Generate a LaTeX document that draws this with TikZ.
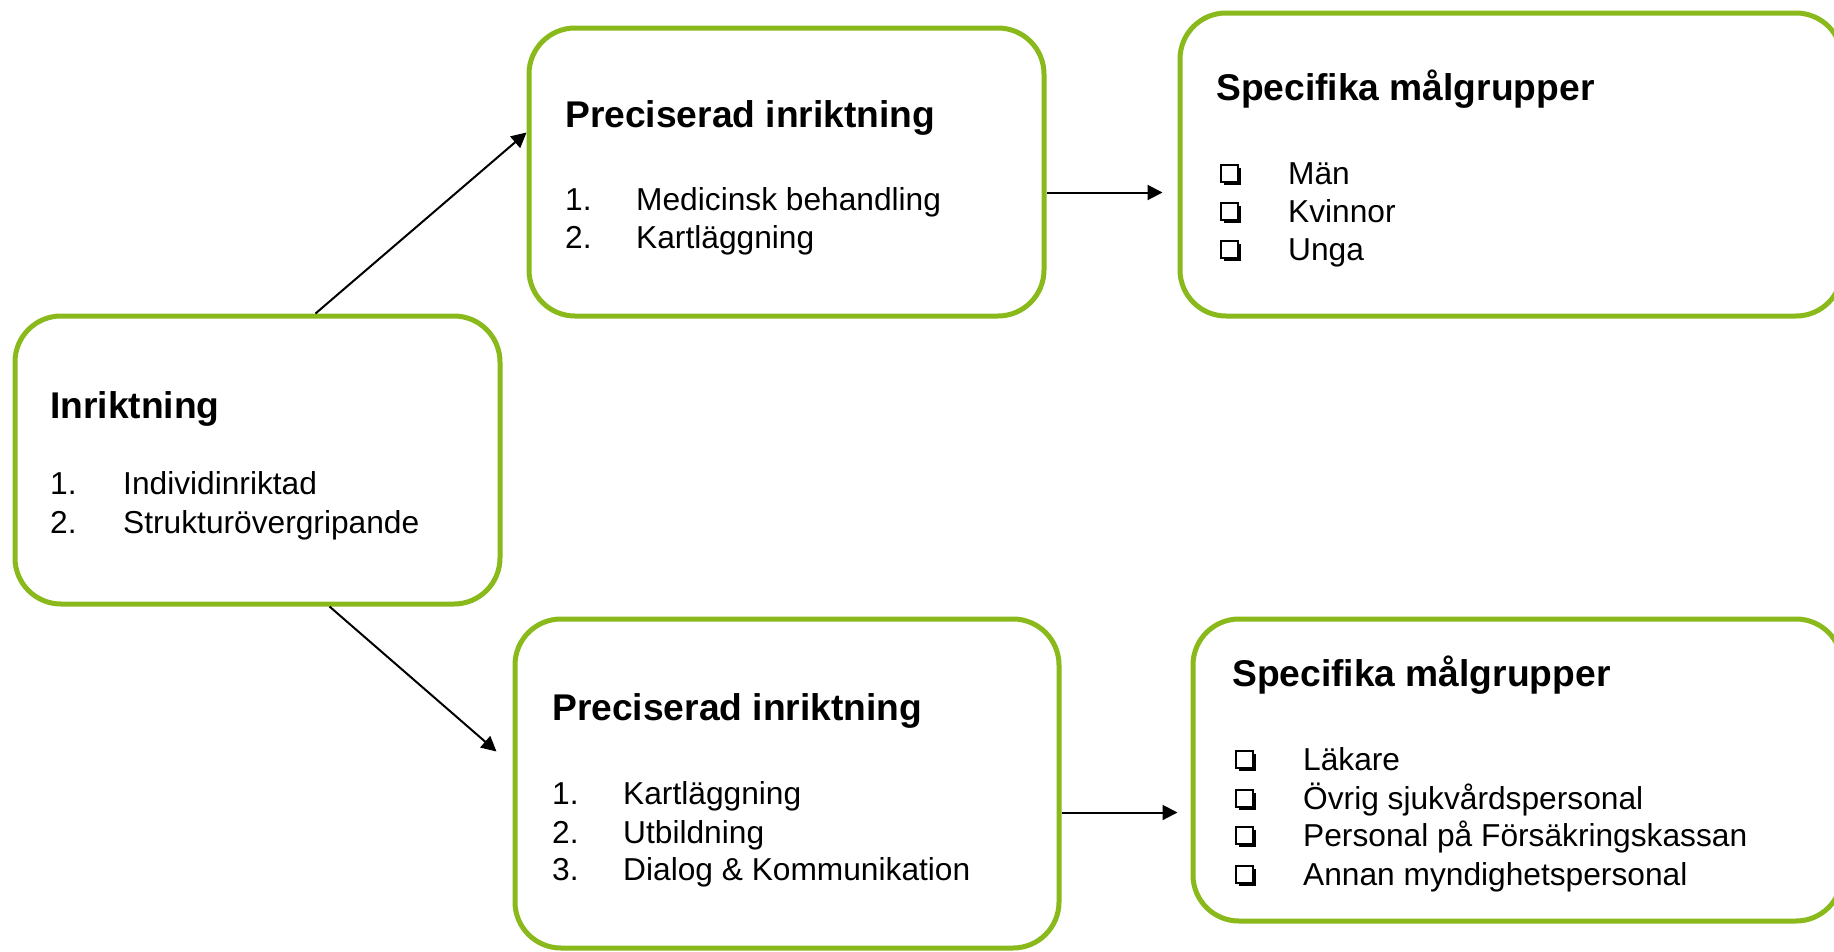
\documentclass[tikz,border=0pt]{standalone}
\usepackage{fontspec}
\setmainfont{Liberation Sans}
\usetikzlibrary{calc,arrows.meta,shadows}
\definecolor{boxgreen}{RGB}{137,185,27}
\begin{document}
\begin{tikzpicture}[x=1pt,y=-1pt,
  box/.style={draw=boxgreen,line width=5pt,rounded corners=46pt,fill=white,inner sep=0pt},
  ttl/.style={anchor=base west,inner sep=0pt,font=\fontsize{37.2}{44}\selectfont\bfseries},
  itm/.style={anchor=base west,inner sep=0pt,font=\fontsize{31.7}{38}\selectfont},
  chk/.style={anchor=north west,inner sep=0pt,minimum size=17pt,draw=black,line width=2.3pt,fill=white,
    drop shadow={shadow xshift=3.2pt,shadow yshift=-3.2pt,fill=black,opacity=1}},
  arr/.style={-{Triangle[length=15pt,width=15pt]},line width=2pt}
]
\useasboundingbox (0,0) rectangle (1834,951);
\clip (0,0) rectangle (1834,951);

% boxes
\node[box,minimum width=485pt,minimum height=288pt] (A) at (257.5,460) {};
\node[box,minimum width=515pt,minimum height=288pt] (B) at (786.5,172) {};
\node[box,minimum width=662pt,minimum height=303pt] (C) at (1511,164.5) {};
\node[box,minimum width=544pt,minimum height=329pt] (D) at (787,783.5) {};
\node[box,minimum width=649pt,minimum height=302pt] (E) at (1517.5,770) {};

% box A
\node[ttl] (At) at (50,418) {Inriktning};
\node[itm] (An1) at (50,494) {1.};
\node[itm] (Ai1) at (123,494) {Individinriktad};
\node[itm] (An2) at (50,533) {2.};
\node[itm] (Ai2) at (123,533) {Strukturövergripande};

% box B
\node[ttl] (Bt) at (565,127) {Preciserad inriktning};
\node[itm] (Bn1) at (565,210) {1.};
\node[itm] (Bi1) at (636,210) {Medicinsk behandling};
\node[itm] (Bn2) at (565,248) {2.};
\node[itm] (Bi2) at (636,248) {Kartläggning};

% box C
\node[ttl] (Ct) at (1216,100) {Specifika målgrupper};
\node[chk] (Cc1) at (1219.5,163.5) {};
\node[itm] (Ci1) at (1288,184) {Män};
\node[chk] (Cc2) at (1219.5,201.5) {};
\node[itm] (Ci2) at (1288,222) {Kvinnor};
\node[chk] (Cc3) at (1219.5,239.5) {};
\node[itm] (Ci3) at (1288,260) {Unga};

% box D
\node[ttl] (Dt) at (552,720) {Preciserad inriktning};
\node[itm] (Dn1) at (552,804) {1.};
\node[itm] (Di1) at (623,804) {Kartläggning};
\node[itm] (Dn2) at (552,843) {2.};
\node[itm] (Di2) at (623,843) {Utbildning};
\node[itm] (Dn3) at (552,880) {3.};
\node[itm] (Di3) at (623,880) {Dialog \& Kommunikation};

% box E
\node[ttl] (Et) at (1232,686) {Specifika målgrupper};
\node[chk] (Ec1) at (1234.5,749.5) {};
\node[itm] (Ei1) at (1303,770) {Läkare};
\node[chk] (Ec2) at (1234.5,788.5) {};
\node[itm] (Ei2) at (1303,809) {Övrig sjukvårdspersonal};
\node[chk] (Ec3) at (1234.5,825.5) {};
\node[itm] (Ei3) at (1303,846) {Personal på Försäkringskassan};
\node[chk] (Ec4) at (1234.5,864.5) {};
\node[itm] (Ei4) at (1303,885) {Annan myndighetspersonal};

% connectors
\coordinate (dEnd) at ($(D.north west)+(-16,135)$);
\coordinate (cEnd) at ($(C.north west)+(-15,182)$);
\coordinate (eEnd) at ($(E.north west)+(-13,196)$);
\draw[arr] ($(A.north west)+(303,0)$) -- ($(B.north west)+(0,107)$);
\draw[arr] ($(A.south west)+(317,0)$) -- (dEnd);
\draw[arr] ($(B.north east)+(0,167)$) -- (cEnd);
\draw[arr] ($(D.north east)+(0,196)$) -- (eEnd);
\end{tikzpicture}
\end{document}
